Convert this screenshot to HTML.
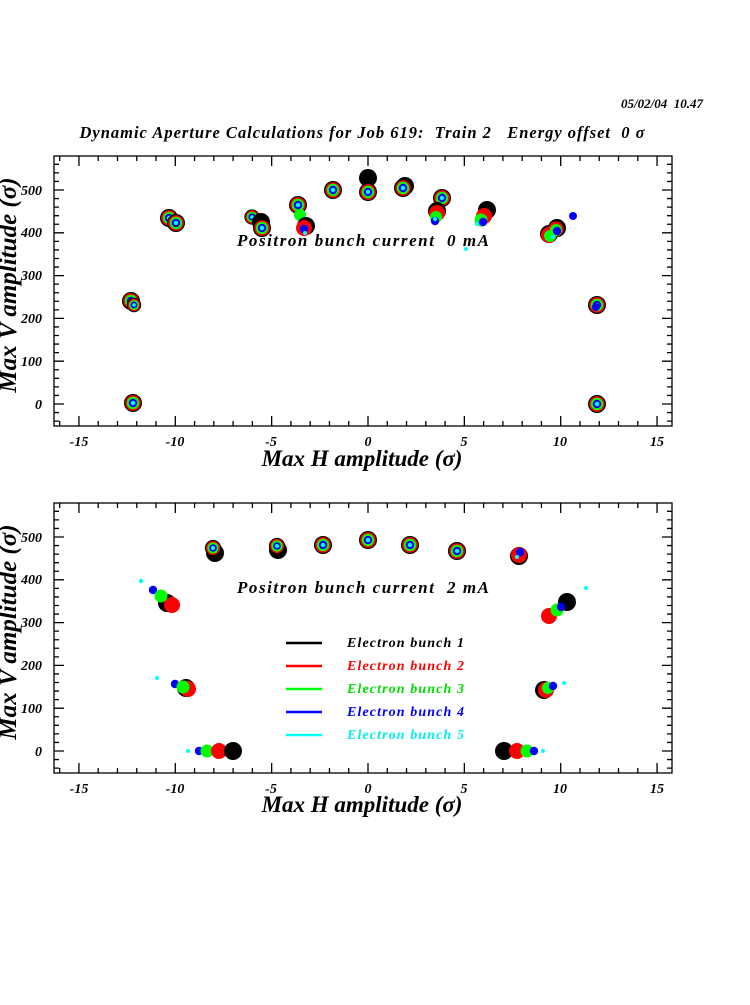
<!DOCTYPE html>
<html><head><meta charset="utf-8"><style>
html,body{margin:0;padding:0;background:#fff;}
svg text{font-family:"Liberation Serif",serif;font-weight:bold;font-style:italic;white-space:pre;}
</style></head><body>
<svg id="s" width="750" height="1000" viewBox="0 0 750 1000" xmlns="http://www.w3.org/2000/svg">
<rect width="750" height="1000" fill="#fff"/>
<text x="703" y="108" font-size="13" text-anchor="end">05/02/04  10.47</text>
<text x="362" y="138" font-size="16.5" text-anchor="middle" textLength="565" lengthAdjust="spacing">Dynamic Aperture Calculations for Job 619:  Train 2   Energy offset  0 σ</text>
<g id="axes" stroke="#000" stroke-width="1.3" fill="none"></g>
<g font-size="14" text-anchor="middle">
<text x="79" y="446">-15</text><text x="175" y="446">-10</text><text x="271" y="446">-5</text><text x="368" y="446">0</text><text x="464" y="446">5</text><text x="560" y="446">10</text><text x="657" y="446">15</text>
<text x="79" y="793">-15</text><text x="175" y="793">-10</text><text x="271" y="793">-5</text><text x="368" y="793">0</text><text x="464" y="793">5</text><text x="560" y="793">10</text><text x="657" y="793">15</text>
</g>
<g font-size="14" text-anchor="end">
<text x="42" y="195">500</text><text x="42" y="237">400</text><text x="42" y="280">300</text><text x="42" y="323">200</text><text x="42" y="366">100</text><text x="42" y="409">0</text>
<text x="42" y="542">500</text><text x="42" y="584">400</text><text x="42" y="627">300</text><text x="42" y="670">200</text><text x="42" y="713">100</text><text x="42" y="756">0</text>
</g>
<g font-size="23" text-anchor="middle">
<text x="362" y="466">Max H amplitude (σ)</text>
<text x="362" y="812">Max H amplitude (σ)</text>
<text transform="translate(16,285) rotate(-90)" font-size="25">Max V amplitude (σ)</text>
<text transform="translate(16,632) rotate(-90)" font-size="25">Max V amplitude (σ)</text>
</g>
<g font-size="17">
<text x="237" y="246" textLength="252" lengthAdjust="spacing">Positron bunch current  0 mA</text>
<text x="237" y="593" textLength="252" lengthAdjust="spacing">Positron bunch current  2 mA</text>
</g>
<g stroke-width="2.5">
<line x1="286" y1="643" x2="322" y2="643" stroke="#000"/>
<line x1="286" y1="666" x2="322" y2="666" stroke="#f00"/>
<line x1="286" y1="689" x2="322" y2="689" stroke="#0f0"/>
<line x1="286" y1="712" x2="322" y2="712" stroke="#00f"/>
<line x1="286" y1="735" x2="322" y2="735" stroke="#0ff"/>
</g>
<g font-size="14">
<text x="347" y="647" fill="#000" textLength="117">Electron bunch 1</text>
<text x="347" y="670" fill="#f00" textLength="117">Electron bunch 2</text>
<text x="347" y="693" fill="#0d0" textLength="117">Electron bunch 3</text>
<text x="347" y="716" fill="#00f" textLength="117">Electron bunch 4</text>
<text x="347" y="739" fill="#0ee" textLength="117">Electron bunch 5</text>
</g>
<g id="pts"></g>
</svg>
<script>
var NS="http://www.w3.org/2000/svg";
var ax=document.getElementById("axes");
function add(p,tag,at){var e=document.createElementNS(NS,tag);for(var k in at)e.setAttribute(k,at[k]);p.appendChild(e);}
var d="";
[[156,426,404],[503,773,751]].forEach(function(b){
 var t=b[0],bt=b[1],z=b[2];
 add(ax,"rect",{x:54,y:t,width:618,height:bt-t});
 for(var u=-16;u<=16;u++){var x=368+19.27*u;if(x<55||x>671)continue;var L=(u%5==0)?10:5;
  d+="M"+x+" "+bt+"v"+(-L)+"M"+x+" "+t+"v"+L;}
 for(var v=-40;v<=560;v+=20){var y=z-0.428*v;if(y<t+1||y>bt-1)continue;var L=(v%100==0)?10:5;
  d+="M54 "+y+"h"+L+"M672 "+y+"h"+(-L);}
});
add(ax,"path",{d:d});
var P=document.getElementById("pts");
function cl(x,y,s){s=s||1;[["#000",9],["#f00",7.8],["#0f0",6.2],["#00f",4.2],["#0ff",2.2]].forEach(function(c){add(P,"circle",{cx:x,cy:y,r:c[1]*s,fill:c[0]});});}
function c(x,y,r,f){add(P,"circle",{cx:x,cy:y,r:r,fill:f});}
cl(133,403);cl(131,301);cl(134,305,0.8);
cl(169,218);cl(176,223);
cl(252,217,0.85);c(261,222,9,"#000");cl(262,228);
cl(298,205);c(300,215,6,"#0f0");
c(306,226,9,"#000");c(304,228,8,"#f00");c(304,229,4.2,"#00f");c(305,233,2,"#0ff");
cl(333,190);c(368,178,9,"#000");cl(368,192);
c(405,186,9,"#000");cl(403,188);
cl(442,198);
c(437,211,9,"#000");c(437,213,8,"#f00");c(436,217,6,"#0f0");c(435,221,4.2,"#00f");c(435,219,2,"#0ff");
c(487,210,9,"#000");c(484,216,8,"#f00");c(481,220,6.5,"#0f0");c(483,222,4.2,"#00f");c(477,224,2,"#0ff");
c(466,249,2,"#0ff");
c(549,234,9,"#000");c(557,228,9,"#000");c(549,235,8,"#f00");c(556,229,7.5,"#f00");c(550,236,6,"#0f0");c(556,230,6,"#0f0");c(557,231,4.2,"#00f");c(553,237,2,"#0ff");
c(573,216,4,"#00f");
cl(597,305);c(596,307,4,"#00f");
cl(597,404);
c(215,553,9,"#000");cl(213,548,0.9);
c(278,550,9,"#000");cl(277,546,0.9);
cl(323,545);cl(368,540);cl(410,545);cl(457,551);
c(519,556,9,"#000");c(519,555,8,"#f00");c(520,552,4.2,"#00f");c(517,557,2,"#0ff");
c(141,581,2.2,"#0ff");c(153,590,4.2,"#00f");c(167,603,9,"#000");c(172,605,8,"#f00");c(161,596,6.5,"#0f0");
c(157,678,2,"#0ff");c(175,684,4.2,"#00f");c(186,688,9,"#000");c(188,689,8,"#f00");c(183,687,6.5,"#0f0");
c(188,751,2,"#0ff");c(199,751,4.2,"#00f");c(207,751,6.5,"#0f0");c(219,751,8,"#f00");c(233,751,9,"#000");
c(586,588,2,"#0ff");c(567,602,9,"#000");c(549,616,8,"#f00");c(557,610,6.5,"#0f0");c(561,607,4.2,"#00f");
c(544,690,9,"#000");c(546,690,8,"#f00");c(548,688,6,"#0f0");c(553,686,4.2,"#00f");c(564,683,2,"#0ff");
c(504,751,9,"#000");c(517,751,8,"#f00");c(527,751,6.5,"#0f0");c(534,751,4.2,"#00f");c(543,751,2,"#0ff");
</script>
</body></html>
